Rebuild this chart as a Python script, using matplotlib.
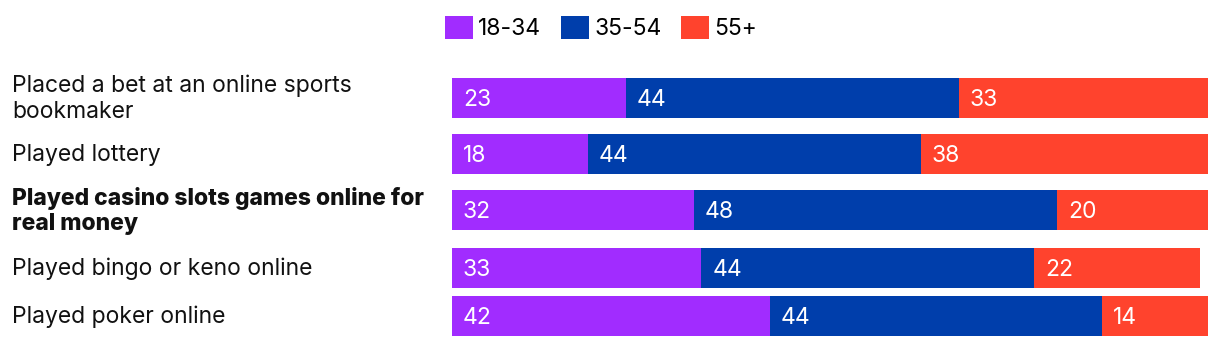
import matplotlib.pyplot as plt
from matplotlib.patches import Patch

categories = [
    "Placed a bet at an online sports\nbookmaker",
    "Played lottery",
    "Played casino slots games online for\nreal money",
    "Played bingo or keno online",
    "Played poker online",
]
age_groups = ["18-34", "35-54", "55+"]
share_18_34 = [23, 18, 32, 33, 42]
share_35_54 = [44, 44, 48, 44, 44]
share_55_plus = [33, 38, 20, 22, 14]
highlight = "Played casino slots games online for\nreal money"

colors = ["#A12CFF", "#003EAB", "#FF432D"]

W, H = 1220, 346
plt.rcParams['font.family'] = ['Inter', 'DejaVu Sans']
fig = plt.figure(figsize=(W / 100, H / 100), dpi=100)
ax = fig.add_axes([0, 0, 1, 1])

# 0..100 maps onto pixels 452..1208; y runs in pixels, top down
unit = 7.56
ax.set_xlim(-452 / unit, (W - 452) / unit)
ax.set_ylim(H, 0)
ax.axis('off')

row_y = [98, 154, 210, 268, 316]
bar_h = 40
fs = 16.5

series = [share_18_34, share_35_54, share_55_plus]
left = [0] * len(categories)
for vals, col in zip(series, colors):
    ax.barh(row_y, vals, left=left, height=bar_h, color=col, linewidth=0)
    for y, l, v in zip(row_y, left, vals):
        ax.text(l + 11 / unit, y, str(v), color='white', fontsize=fs,
                ha='left', va='center_baseline')
    left = [a + b for a, b in zip(left, vals)]

for y, cat in zip(row_y, categories):
    ax.text(12 / unit - 452 / unit, y + 1, cat, ha='left', va='center',
            fontsize=fs, linespacing=1.22, color='#111111',
            fontweight='heavy' if cat == highlight else 'normal')

handles = [Patch(facecolor=c, edgecolor='none') for c in colors]
fig.legend(handles, age_groups, loc='center', bbox_to_anchor=(601 / W, 1 - 28 / H),
           ncol=3, frameon=False, fontsize=fs, handlelength=1.22, handleheight=1.22,
           handletextpad=0.22, columnspacing=0.87, borderpad=0, borderaxespad=0)

fig.savefig('out.png', dpi=100)
